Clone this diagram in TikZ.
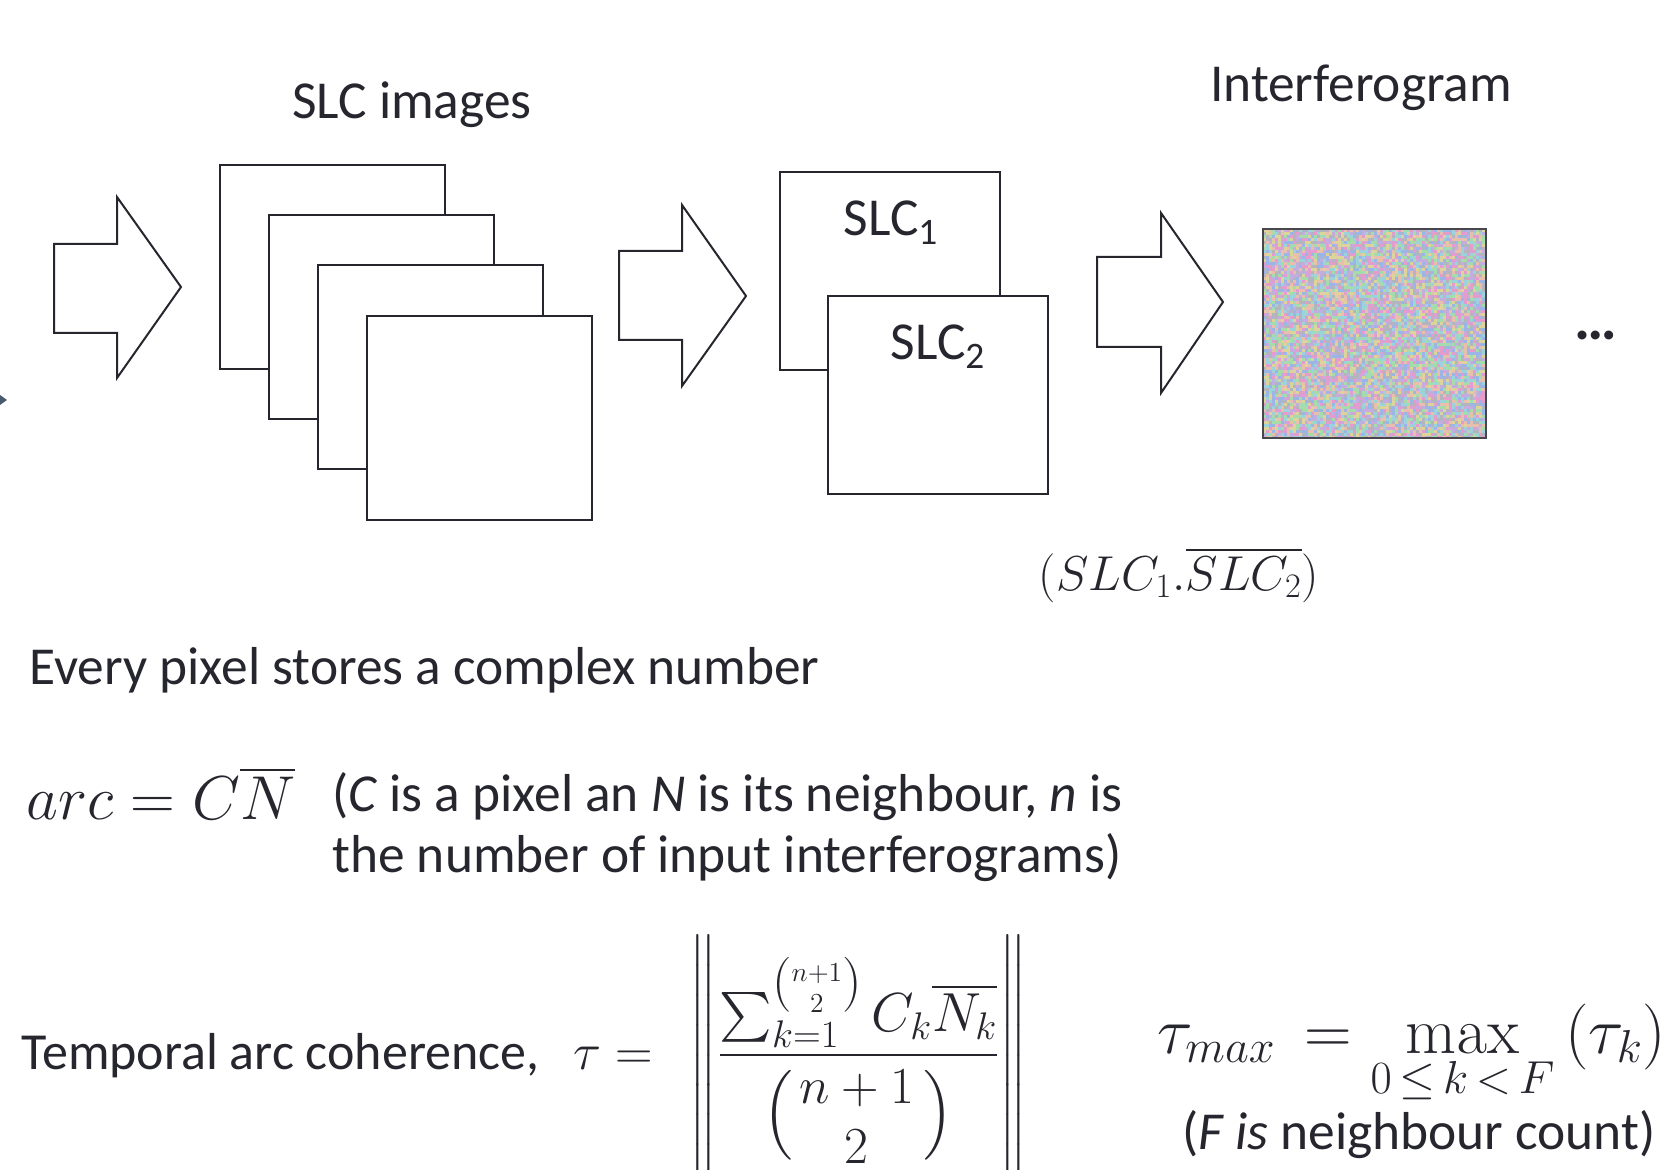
\RequirePackage{fix-cm}
\documentclass[tikz,border=0pt]{standalone}
\usepackage{amsmath}
\usepackage{graphicx}
\usepackage[no-math]{fontspec}
\setmainfont{Carlito}
\definecolor{ink}{RGB}{38,38,46}
\definecolor{tipc}{RGB}{74,90,110}
\definecolor{igbase}{RGB}{185,180,195}
\definecolor{ig1}{RGB}{228,155,205}
\definecolor{ig2}{RGB}{165,220,172}
\definecolor{ig3}{RGB}{155,182,230}
\definecolor{ig4}{RGB}{220,212,155}
\definecolor{ig5}{RGB}{195,172,222}
\definecolor{ig6}{RGB}{155,210,220}
\definecolor{ig7}{RGB}{180,180,190}
\definecolor{ig8}{RGB}{232,190,172}
\begin{document}
\begin{tikzpicture}[x=0.5pt,y=-0.5pt,
  txt/.style={text=ink, font=\fontsize{26.7}{32}\selectfont, inner sep=0pt},
  frame/.style={draw=ink, line width=1pt, fill=white, inner sep=0pt},
  barrow/.style={draw=ink, line width=1pt, fill=white, line join=miter}]
\clip (0,0) rectangle (1668,1170);
\useasboundingbox (0,0) rectangle (1668,1170);
\fill[white] (0,0) rectangle (1668,1170);

% left edge fragment
\fill[tipc] (0,395) -- (7,400) -- (0,405) -- cycle;

% block arrows
\draw[barrow] (54,244) -- (117,244) -- (117,197) -- (181,287) -- (117,378) -- (117,333) -- (54,333) -- cycle;
\draw[barrow] (619,251) -- (682,251) -- (682,205) -- (746,296) -- (682,386) -- (682,340) -- (619,340) -- cycle;
\draw[barrow] (1097,257) -- (1161,257) -- (1161,213) -- (1223,302) -- (1161,393) -- (1161,347) -- (1097,347) -- cycle;

% SLC stack
\node[frame, minimum width=112.5pt, minimum height=102pt] (s1) at (332,267) {};
\node[frame, minimum width=112.5pt, minimum height=102pt] (s2) at (381,317) {};
\node[frame, minimum width=112.5pt, minimum height=102pt] (s3) at (430,367) {};
\node[frame, minimum width=112.5pt, minimum height=102pt] (s4) at (479,418) {};
\node[txt, anchor=base] (lslc) at (412,119) {SLC images};

% SLC pair
\node[frame, minimum width=110pt, minimum height=99pt] (p1) at (890,271) {};
\node[frame, minimum width=110pt, minimum height=99pt] (p2) at (938,395) {};
\node[txt, anchor=base] (l1) at (891,236) {SLC\textsubscript{1}};
\node[txt, anchor=base] (l2) at (938,360) {SLC\textsubscript{2}};

% interferogram
\begin{scope}
\clip (1263,229) rectangle (1486,438);
\fill[igbase] (1263,229) rectangle (1486,438);
\pgfmathsetseed{7}
\foreach \i in {0,...,74}{
  \foreach \j in {0,...,69}{
    \pgfmathrandominteger{\c}{1}{8}
    \fill[fill=ig\c] (1263+\i*3,229+\j*3) rectangle ++(3,3);
  }
}
\end{scope}
\node[draw=ink!85, line width=1pt, inner sep=0pt, minimum width=111.5pt, minimum height=104.5pt] (ifg) at (1374.5,333.5) {};
\node[txt, anchor=base] (lifg) at (1361,102) {Interferogram};
\node[txt, anchor=base, font=\fontsize{30}{30}\selectfont] (dots) at (1596,340) {\textbf{…}};

\node[txt, anchor=base, font=\fontsize{24.5}{30}\selectfont] (prod) at (1179,590) {$(SLC_1.\overline{SLC_2})$};

\node[txt, anchor=base west] (every) at (29,684) {Every pixel stores a complex number};

\node[txt, anchor=base west, font=\fontsize{31}{36}\selectfont] (arc) at (26,819) {$arc = C\overline{N}$};
\node[txt, anchor=base west] (arcd1) at (332,811) {(\textit{C} is a pixel an \textit{N} is its neighbour, \textit{n} is};
\node[txt, anchor=base west] (arcd2) at (332,872) {the number of input interferograms)};

\node[txt, anchor=base west, font=\fontsize{26}{31}\selectfont] (tac) at (21,1069) {Temporal arc coherence,\hspace{0.65em}$\tau =$};
\node[txt, font=\fontsize{27.5}{33}\selectfont] (norm) at (858.5,1055) {$\displaystyle\left\|\rule[-50.1pt]{0pt}{114pt}\smash{\frac{\sum_{k=1}^{\binom{n+1}{2}} C_k\overline{N_k}}{\mbox{\fontsize{24}{24}\selectfont\raisebox{4pt}{$\Bigl($}}\hspace{3pt}\mbox{\fontsize{26}{30}\selectfont$\begin{array}{@{}c@{}}n+1\\2\end{array}$}\hspace{5pt}\mbox{\fontsize{24}{24}\selectfont\raisebox{4pt}{$\Bigr)$}}}}\right\|$};

\node[txt, anchor=base west, font=\fontsize{33}{38}\selectfont] (tmax) at (1157,1053) {$\displaystyle\tau_{max}\,=\max_{0\mkern3mu\le\mkern3mu k\mkern3mu<\mkern3mu F}\,(\tau_k)$};
\node[txt, anchor=base] (fnote) at (1419,1149) {(\textit{F is} neighbour count)};
\end{tikzpicture}
\end{document}
